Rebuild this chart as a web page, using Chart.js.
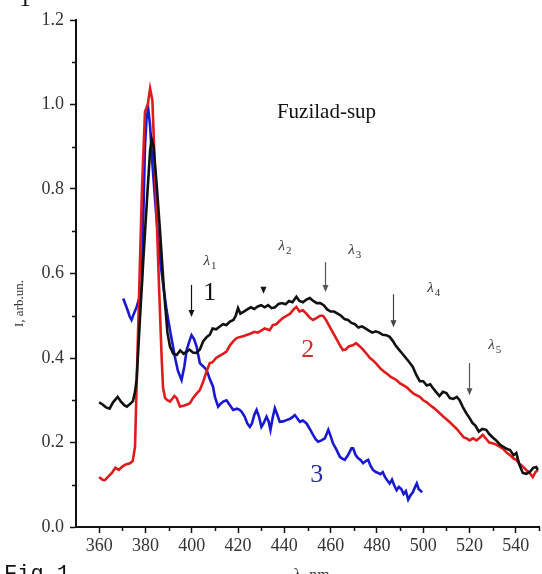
<!DOCTYPE html>
<html>
<head>
<meta charset="utf-8">
<script src="https://cdn.jsdelivr.net/npm/chart.js@4.4.1/dist/chart.umd.min.js"></script>
<style>
  html, body { margin: 0; padding: 0; background: #fff; }
  #wrap { position: relative; width: 542px; height: 574px; overflow: hidden; }
  canvas { display: block; }
</style>
</head>
<body>
<div id="wrap"><canvas id="chart" width="542" height="574"></canvas></div>
<script>
/* Fuzilad-sup luminescence spectra — three curves */

// ── Data ────────────────────────────────────────────────────────────────

const X_TICKS = [360, 380, 400, 420, 440, 460, 480, 500, 520, 540];
const X_MINOR = [370, 390, 410, 430, 450, 470, 490, 510, 530, 550];
const Y_TICKS = [0.0, 0.2, 0.4, 0.6, 0.8, 1.0, 1.2];
const Y_MINOR = [0.1, 0.3, 0.5, 0.7, 0.9, 1.1];

// curve 1 (black)
const WL_1 = [360, 361.5, 363, 364.5, 366, 368, 369.5, 371, 372, 373.5, 374.6, 375.5, 376.2, 377.5, 378.9, 380.5, 382, 382.7, 383.5, 385, 386.3, 388, 389.5, 390.6, 392, 393.5, 395, 396.5, 397.8, 399, 400.5, 402, 403.5, 404.9, 406.5, 407.8, 409, 410.5, 412, 413.5, 415, 416.5, 418, 419, 420, 421, 422.5, 424, 425.5, 427, 428.5, 430, 431.5, 433, 434.5, 436, 437.5, 439, 440.5, 442, 443.5, 445.2, 446.5, 448, 449.5, 451, 452.5, 454, 455.5, 457, 458.5, 460, 461.5, 463, 464.5, 466, 467.5, 469, 470.5, 472, 473.5, 475, 476.5, 478, 479.5, 481, 482.5, 484, 485.5, 486.9, 488, 489.5, 491, 492.5, 494, 495.5, 497, 498.5, 500, 501.5, 503, 504, 505.5, 507, 508.5, 510, 511.5, 513, 514.5, 515.7, 517, 518.5, 520, 521.3, 522.5, 524, 525.5, 527.2, 528.5, 530, 531.5, 533, 534.5, 536, 537.5, 539, 540.2, 541.5, 543, 544.5, 546, 547.5, 548.8, 549.5];
const I_1 = [0.295, 0.29, 0.283, 0.28, 0.295, 0.308, 0.296, 0.288, 0.285, 0.292, 0.298, 0.32, 0.35, 0.48, 0.616, 0.76, 0.89, 0.918, 0.9, 0.8, 0.7, 0.56, 0.46, 0.427, 0.41, 0.407, 0.418, 0.41, 0.415, 0.42, 0.413, 0.412, 0.42, 0.439, 0.45, 0.455, 0.47, 0.468, 0.474, 0.48, 0.478, 0.486, 0.49, 0.5, 0.518, 0.505, 0.51, 0.515, 0.52, 0.516, 0.522, 0.525, 0.52, 0.525, 0.518, 0.52, 0.528, 0.53, 0.527, 0.535, 0.532, 0.545, 0.535, 0.532, 0.538, 0.542, 0.535, 0.53, 0.53, 0.525, 0.515, 0.51, 0.51, 0.505, 0.5, 0.492, 0.49, 0.483, 0.48, 0.472, 0.475, 0.47, 0.465, 0.46, 0.463, 0.46, 0.455, 0.454, 0.45, 0.44, 0.43, 0.42, 0.41, 0.4, 0.39, 0.379, 0.36, 0.345, 0.345, 0.335, 0.338, 0.33, 0.32, 0.31, 0.32, 0.317, 0.305, 0.303, 0.308, 0.3, 0.285, 0.27, 0.258, 0.246, 0.24, 0.226, 0.232, 0.23, 0.22, 0.212, 0.205, 0.196, 0.19, 0.185, 0.182, 0.17, 0.175, 0.148, 0.128, 0.126, 0.13, 0.14, 0.142, 0.135];

// curve 2 (red)
const WL_2 = [360, 361.5, 362.5, 364, 365.5, 367, 368.5, 370, 371.5, 373.3, 374.5, 375.5, 376.5, 377.5, 378.5, 379.8, 381, 382, 383, 384, 384.8, 386, 387, 387.6, 388.5, 389.5, 390.6, 391.5, 392.5, 393.5, 394.9, 396.5, 398, 399.2, 400.5, 402, 403.5, 405, 406.5, 407.8, 409, 410.5, 412, 413.5, 415, 416.5, 418, 419.4, 421, 422.5, 424, 425.5, 427, 428.5, 430, 431.5, 433.7, 435, 436.5, 438, 439.5, 441, 442.5, 444, 445.2, 446.5, 448, 449.5, 451, 452.4, 454, 455.5, 456.7, 458, 459.5, 461, 462.5, 464, 465.3, 466.5, 468, 469.5, 471, 472.5, 474, 475.5, 477, 478.2, 480, 481.5, 483, 484.5, 486, 488.4, 490, 491.5, 493, 494.5, 496, 498.5, 500, 501.5, 503, 504.5, 506, 507, 508.5, 510, 511.5, 513, 514.5, 516, 517.5, 518.6, 520, 521.5, 523, 524.5, 525.7, 527, 528.5, 530, 531.5, 533, 534.5, 536, 537.5, 539, 540.2, 541.5, 543, 544.5, 546, 547.3, 548.5, 549.5];
const I_2 = [0.118, 0.112, 0.111, 0.12, 0.128, 0.14, 0.135, 0.143, 0.148, 0.151, 0.156, 0.19, 0.4, 0.6, 0.8, 0.983, 1.0, 1.038, 1.01, 0.86, 0.74, 0.55, 0.4, 0.33, 0.305, 0.3, 0.297, 0.303, 0.31, 0.305, 0.285, 0.287, 0.29, 0.293, 0.305, 0.315, 0.324, 0.345, 0.37, 0.388, 0.39, 0.4, 0.405, 0.41, 0.415, 0.43, 0.44, 0.447, 0.45, 0.452, 0.455, 0.458, 0.462, 0.46, 0.465, 0.47, 0.466, 0.478, 0.48, 0.488, 0.495, 0.5, 0.505, 0.515, 0.521, 0.51, 0.513, 0.505, 0.495, 0.49, 0.495, 0.5, 0.5, 0.49, 0.475, 0.46, 0.445, 0.43, 0.419, 0.42, 0.428, 0.43, 0.435, 0.428, 0.42, 0.41, 0.4, 0.395, 0.385, 0.375, 0.368, 0.362, 0.355, 0.348, 0.34, 0.335, 0.33, 0.322, 0.315, 0.308, 0.3, 0.295, 0.288, 0.282, 0.275, 0.27, 0.262, 0.255, 0.248, 0.24, 0.232, 0.222, 0.212, 0.21, 0.205, 0.21, 0.205, 0.212, 0.218, 0.21, 0.2, 0.198, 0.195, 0.19, 0.185, 0.176, 0.17, 0.162, 0.159, 0.15, 0.143, 0.135, 0.128, 0.118, 0.13, 0.135];

// curve 3 (blue)
const WL_3 = [370.4, 371.5, 372.5, 373.2, 374, 375, 376.2, 377.5, 378.4, 379, 379.8, 380.5, 381.2, 382, 383, 384.5, 386.3, 387.5, 389.1, 390.8, 392.7, 394, 395.6, 396.8, 397.8, 399, 399.9, 401, 402.1, 403.5, 405, 406.4, 407.8, 409.2, 410, 411.4, 412.5, 413.6, 415, 416.5, 417.9, 419.5, 420.5, 421.5, 422.9, 424, 425.1, 426, 427, 428, 429, 430.1, 431, 432.3, 433.2, 434, 435, 435.9, 437, 438, 439.5, 440.9, 442.5, 443.5, 444.5, 445.5, 446.7, 448, 449.6, 451, 452.4, 453.5, 454.6, 456, 457.5, 459, 460, 461, 462.5, 464, 465, 466.1, 467.5, 469, 469.7, 470.8, 471.8, 473, 474, 475.2, 476.2, 477.2, 478.3, 479.5, 480.5, 481.5, 482.5, 483.5, 484.5, 485.5, 486.5, 487.5, 488.5, 489.5, 490.5, 491.5, 492.5, 493.5, 494.5, 495.5, 496.5, 497.2, 498, 499, 499.5];
const I_3 = [0.541, 0.525, 0.51, 0.498, 0.49, 0.505, 0.521, 0.545, 0.569, 0.72, 0.9, 0.97, 0.99, 0.95, 0.86, 0.75, 0.632, 0.58, 0.514, 0.46, 0.403, 0.37, 0.348, 0.38, 0.419, 0.44, 0.454, 0.445, 0.427, 0.388, 0.38, 0.372, 0.35, 0.332, 0.308, 0.285, 0.292, 0.297, 0.3, 0.288, 0.277, 0.28, 0.278, 0.273, 0.261, 0.245, 0.237, 0.245, 0.265, 0.277, 0.262, 0.237, 0.245, 0.261, 0.25, 0.23, 0.26, 0.281, 0.265, 0.249, 0.25, 0.253, 0.256, 0.26, 0.265, 0.258, 0.249, 0.252, 0.245, 0.232, 0.218, 0.208, 0.202, 0.205, 0.21, 0.23, 0.215, 0.198, 0.183, 0.166, 0.162, 0.159, 0.17, 0.186, 0.186, 0.17, 0.163, 0.158, 0.151, 0.156, 0.159, 0.145, 0.135, 0.13, 0.128, 0.125, 0.13, 0.118, 0.11, 0.103, 0.112, 0.098, 0.087, 0.095, 0.09, 0.078, 0.085, 0.065, 0.075, 0.082, 0.095, 0.103, 0.09, 0.085, 0.082];

// arrows: wavelength, top, bottom (intensity units)
const ARROWS = [
  { x: 399.5, y0: 0.573, y1: 0.497, color: "#111" },
  { x: 430.6, y0: 0.568, y1: 0.552, color: "#111" },
  { x: 457.5, y0: 0.627, y1: 0.556, color: "#555" },
  { x: 487.0, y0: 0.551, y1: 0.473, color: "#444" },
  { x: 519.7, y0: 0.388, y1: 0.312, color: "#555" },
];
const LAMBDAS = [
  { x: 407.4, y: 0.63, n: "1" },
  { x: 439.8, y: 0.665, n: "2" },
  { x: 470.0, y: 0.656, n: "3" },
  { x: 504.1, y: 0.566, n: "4" },
  { x: 530.4, y: 0.431, n: "5" },
];
const CURVE_LABELS = [
  { x: 407.8, y: 0.554, text: "1", color: "#111" },
  { x: 450.1, y: 0.419, text: "2", color: "#d42a2a" },
  { x: 454.0, y: 0.123, text: "3", color: "#2a2aa8" },
];

const toPts = (xs, ys) => xs.map((x, i) => ({ x, y: ys[i] }));

// ── Plugin: minor ticks + annotations ──────────────────────────────────

const extras = {
  id: "extras",
  afterDraw(chart) {
    const ctx = chart.ctx;
    const xs = chart.scales.x;
    const ys = chart.scales.y;
    const area = chart.chartArea;

    ctx.save();
    ctx.strokeStyle = "#111";
    ctx.lineWidth = 1.5;
    X_MINOR.forEach((v) => {
      const px = Math.round(xs.getPixelForValue(v)) + 0.5;
      ctx.beginPath();
      ctx.moveTo(px, area.bottom);
      ctx.lineTo(px, area.bottom + 4);
      ctx.stroke();
    });
    Y_MINOR.forEach((v) => {
      const py = Math.round(ys.getPixelForValue(v)) + 0.5;
      ctx.beginPath();
      ctx.moveTo(area.left, py);
      ctx.lineTo(area.left - 4, py);
      ctx.stroke();
    });

    // arrows
    ARROWS.forEach((a) => {
      const px = Math.round(xs.getPixelForValue(a.x)) + 0.5;
      const t = ys.getPixelForValue(a.y0);
      const b = ys.getPixelForValue(a.y1);
      ctx.strokeStyle = a.color;
      ctx.fillStyle = a.color;
      ctx.lineWidth = 1.2;
      if (b - t > 8) {
        ctx.beginPath();
        ctx.moveTo(px, t);
        ctx.lineTo(px, b - 5);
        ctx.stroke();
      }
      ctx.beginPath();
      ctx.moveTo(px - 3, b - 7);
      ctx.lineTo(px + 3, b - 7);
      ctx.lineTo(px, b);
      ctx.closePath();
      ctx.fill();
    });

    // lambda labels
    ctx.fillStyle = "#333";
    ctx.textBaseline = "alphabetic";
    LAMBDAS.forEach((l) => {
      const px = xs.getPixelForValue(l.x);
      const py = ys.getPixelForValue(l.y);
      ctx.font = "italic 15px 'Liberation Serif', serif";
      ctx.textAlign = "right";
      ctx.fillText("λ", px + 1, py + 4);
      ctx.font = "11px 'Liberation Serif', serif";
      ctx.textAlign = "left";
      ctx.fillText(l.n, px + 2, py + 8);
    });

    // curve numbers
    ctx.textAlign = "center";
    ctx.textBaseline = "middle";
    ctx.font = "26px 'Liberation Serif', serif";
    CURVE_LABELS.forEach((c) => {
      ctx.fillStyle = c.color;
      ctx.fillText(c.text, xs.getPixelForValue(c.x), ys.getPixelForValue(c.y));
    });

    // title inside plot
    ctx.fillStyle = "#111";
    ctx.textAlign = "left";
    ctx.font = "21px 'Liberation Serif', serif";
    ctx.fillText("Fuzilad-sup", xs.getPixelForValue(436.8), ys.getPixelForValue(0.98));

    // axis titles
    ctx.fillStyle = "#333";
    ctx.font = "16px 'Liberation Serif', serif";
    ctx.textAlign = "center";
    ctx.textBaseline = "alphabetic";
    ctx.fillText("λ, nm", (area.left + area.right) / 2 + 4, 580);
    ctx.save();
    ctx.translate(20, (area.top + area.bottom) / 2 + 30);
    ctx.rotate(-Math.PI / 2);
    ctx.font = "13px 'Liberation Serif', serif";
    ctx.textBaseline = "middle";
    ctx.fillText("I, arb.un.", 0, 0);
    ctx.restore();

    // cropped figure caption bits
    ctx.fillStyle = "#111";
    ctx.textAlign = "left";
    ctx.font = "22px 'Liberation Mono', monospace";
    ctx.fillText("Fig.1", 4, 580);
    ctx.font = "24px 'Liberation Serif', serif";
    ctx.fillText("1", 19, 6);

    ctx.restore();
  },
};

// ── Chart ───────────────────────────────────────────────────────────────

const tickFont = { family: "'Liberation Serif', serif", size: 18 };

new Chart(document.getElementById("chart"), {
  type: "line",
  data: {
    datasets: [
      { data: toPts(WL_1, I_1), borderColor: "#111111", order: 0 },
      { data: toPts(WL_2, I_2), borderColor: "#e01b1b", order: 1 },
      { data: toPts(WL_3, I_3), borderColor: "#1818d0", order: 2 },
    ].map((d) => ({ ...d, borderWidth: 2.6, pointRadius: 0, tension: 0, fill: false })),
  },
  options: {
    responsive: false,
    animation: false,
    events: [],
    layout: { padding: { top: 20, right: 3, left: 0, bottom: 0 } },
    plugins: { legend: { display: false }, tooltip: { enabled: false } },
    scales: {
      x: {
        type: "linear",
        min: 350,
        max: 550,
        afterBuildTicks: (s) => { s.ticks = X_TICKS.map((v) => ({ value: v })); },
        afterFit: (s) => { s.height = 47; },
        ticks: { font: tickFont, color: "#333", padding: 2, maxRotation: 0, callback: (v) => String(v) },
        grid: { drawOnChartArea: false, tickLength: 6, tickColor: "#111", tickWidth: 1.5 },
        border: { color: "#111", width: 2 },
      },
      y: {
        min: 0,
        max: 1.2,
        afterBuildTicks: (s) => { s.ticks = Y_TICKS.map((v) => ({ value: v })); },
        afterFit: (s) => { s.width = 76; },
        ticks: { font: tickFont, color: "#333", padding: 6, callback: (v) => v.toFixed(1) },
        grid: { drawOnChartArea: false, tickLength: 6, tickColor: "#111", tickWidth: 1.5 },
        border: { color: "#111", width: 2 },
      },
    },
  },
  plugins: [extras],
});
</script>
</body>
</html>
